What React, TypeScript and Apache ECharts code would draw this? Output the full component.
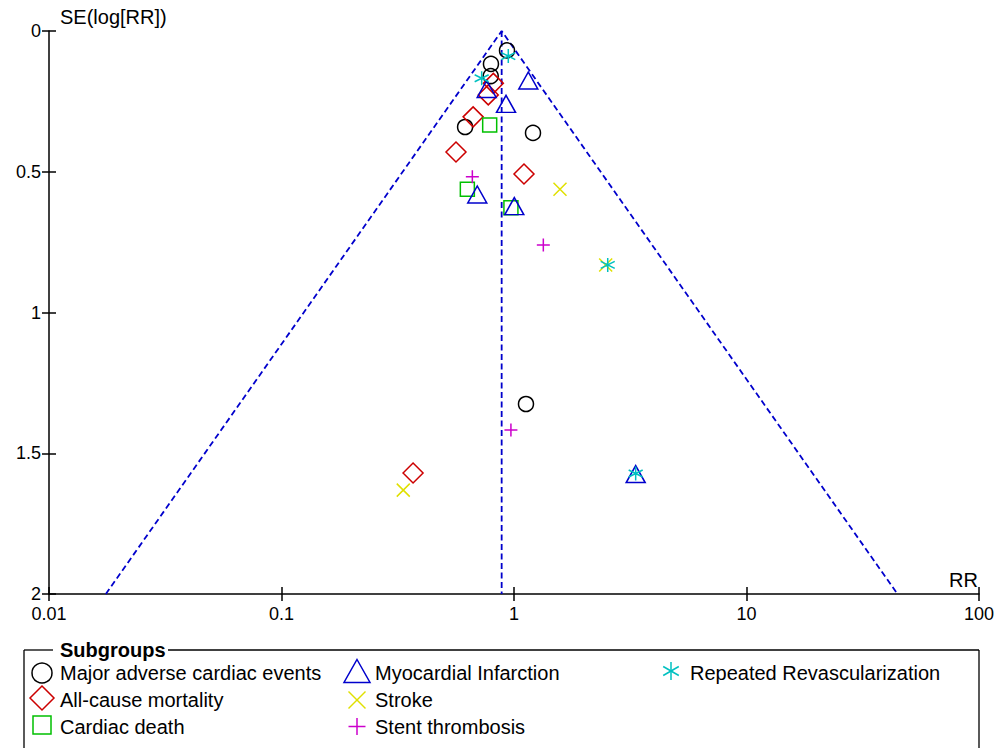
import React, { useEffect, useRef } from "react";
import * as echarts from "echarts";

// ---- data: [RR, SE(log[RR])] ----
const summaryRR = 0.885;
const seMax = 2;
const xTicks = [0.01, 0.1, 1, 10, 100];
const yTicks = [0, 0.5, 1, 1.5, 2];

const maceData = [
  [0.933, 0.069],
  [0.796, 0.117],
  [0.794, 0.16],
  [0.616, 0.341],
  [1.207, 0.362],
  [1.126, 1.325],
];
const mortalityData = [
  [0.815, 0.186],
  [0.775, 0.227],
  [0.667, 0.305],
  [0.563, 0.43],
  [1.104, 0.508],
  [0.368, 1.57],
];
const cardiacDeathData = [
  [0.786, 0.334],
  [0.63, 0.562],
  [0.97, 0.628],
];
const miData = [
  [1.152, 0.176],
  [0.763, 0.206],
  [0.924, 0.259],
  [0.695, 0.581],
  [1.003, 0.622],
  [3.337, 1.574],
];
const strokeData = [
  [1.577, 0.562],
  [2.479, 0.831],
  [0.334, 1.631],
];
const stentData = [
  [0.662, 0.518],
  [1.337, 0.76],
  [0.97, 1.417],
];
const revascData = [
  [0.945, 0.089],
  [0.726, 0.168],
  [2.53, 0.831],
  [3.337, 1.572],
];

const seriesNames = [
  "Major adverse cardiac events",
  "All-cause mortality",
  "Cardiac death",
  "Myocardial Infarction",
  "Stroke",
  "Stent thrombosis",
  "Repeated Revascularization",
];

const COLORS = {
  black: "#000000",
  red: "#cc0000",
  green: "#00c000",
  blue: "#0000cc",
  yellow: "#e0e000",
  magenta: "#cc00cc",
  cyan: "#00c0c0",
};

const FONT = "'Liberation Sans', Arial, Helvetica, sans-serif";
const TEXT_SIZE = 20;

const X_PATH = "path://M0,0L10,10M10,0L0,10";
const PLUS_PATH = "path://M5,0L5,10M0,5L10,5";
const STAR_PATH = "path://M5,0L5,10M0.67,2.5L9.33,7.5M0.67,7.5L9.33,2.5";

function scatter(name: string, data: number[][], symbol: string, size: any, color: string) {
  return {
    name,
    type: "scatter",
    data,
    symbol,
    symbolSize: size,
    itemStyle: { color: "rgba(0,0,0,0)", borderColor: color, borderWidth: 1.5, opacity: 1 },
    emphasis: { disabled: true },
    z: 5,
  };
}

function legendGraphics() {
  const els: any[] = [];
  const lw = 1.5;
  const frame = { stroke: "#000", lineWidth: 1.3 };
  els.push({ type: "line", shape: { x1: 24, y1: 650, x2: 53, y2: 650 }, style: frame });
  els.push({ type: "line", shape: { x1: 168, y1: 650, x2: 979, y2: 650 }, style: frame });
  els.push({ type: "line", shape: { x1: 24, y1: 650, x2: 24, y2: 760 }, style: frame });
  els.push({ type: "line", shape: { x1: 979, y1: 650, x2: 979, y2: 760 }, style: frame });
  els.push({
    type: "text",
    x: 60,
    y: 650,
    style: { text: "Subgroups", font: `bold ${TEXT_SIZE}px ${FONT}`, fill: "#000", verticalAlign: "middle" },
  });
  const txt = (x: number, y: number, t: string) => ({
    type: "text",
    x,
    y,
    style: { text: t, font: `${TEXT_SIZE}px ${FONT}`, fill: "#000", verticalAlign: "middle" },
  });
  // col 1
  els.push({ type: "circle", shape: { cx: 42, cy: 673, r: 10 }, style: { fill: "none", stroke: COLORS.black, lineWidth: lw } });
  els.push(txt(60, 673, seriesNames[0]));
  els.push({
    type: "polygon",
    shape: { points: [[42, 686], [54, 698], [42, 710], [30, 698]] },
    style: { fill: "none", stroke: COLORS.red, lineWidth: lw },
  });
  els.push(txt(60, 700, seriesNames[1]));
  els.push({ type: "rect", shape: { x: 33, y: 716, width: 18, height: 18 }, style: { fill: "none", stroke: COLORS.green, lineWidth: lw } });
  els.push(txt(60, 727, seriesNames[2]));
  // col 2
  els.push({
    type: "polygon",
    shape: { points: [[357, 659.5], [370, 682.5], [344, 682.5]] },
    style: { fill: "none", stroke: COLORS.blue, lineWidth: lw },
  });
  els.push(txt(375, 673, seriesNames[3]));
  const ys = { stroke: COLORS.yellow, lineWidth: lw };
  els.push({ type: "line", shape: { x1: 348.5, y1: 691.5, x2: 365.5, y2: 708.5 }, style: ys });
  els.push({ type: "line", shape: { x1: 365.5, y1: 691.5, x2: 348.5, y2: 708.5 }, style: ys });
  els.push(txt(375, 700, seriesNames[4]));
  const ms = { stroke: COLORS.magenta, lineWidth: lw };
  els.push({ type: "line", shape: { x1: 357, y1: 718, x2: 357, y2: 735 }, style: ms });
  els.push({ type: "line", shape: { x1: 348.5, y1: 726.5, x2: 365.5, y2: 726.5 }, style: ms });
  els.push(txt(375, 727, seriesNames[5]));
  // col 3
  const cs = { stroke: COLORS.cyan, lineWidth: lw };
  const cx = 671, cy = 671, r = 9;
  els.push({ type: "line", shape: { x1: cx, y1: cy - r, x2: cx, y2: cy + r }, style: cs });
  els.push({ type: "line", shape: { x1: cx - r * 0.866, y1: cy - r / 2, x2: cx + r * 0.866, y2: cy + r / 2 }, style: cs });
  els.push({ type: "line", shape: { x1: cx - r * 0.866, y1: cy + r / 2, x2: cx + r * 0.866, y2: cy - r / 2 }, style: cs });
  els.push(txt(690, 673, seriesNames[6]));
  return els;
}

export default function App() {
  const ref = useRef<HTMLDivElement>(null);
  useEffect(() => {
    if (!ref.current) return;
    const chart = echarts.init(ref.current, null, { renderer: "svg" });
    const lowRR = summaryRR * Math.exp(-1.96 * seMax);
    const highRR = summaryRR * Math.exp(1.96 * seMax);
    const dash = { color: COLORS.blue, width: 1.8, type: [6, 3.5] as any };
    const axisLineStyle = { color: "#000", width: 1.5 };
    const fmtX = (v: number) => {
      const n = parseFloat(Number(v).toPrecision(3));
      return xTicks.includes(n) ? String(n) : "";
    };
    const fmtY = (v: number) => {
      const n = parseFloat(Number(v).toPrecision(3));
      return yTicks.includes(n) ? String(n) : "";
    };
    const option: any = {
      animation: false,
      backgroundColor: "#fff",
      textStyle: { fontFamily: FONT },
      grid: { left: 49, right: 22, top: 31, bottom: 154, containLabel: false },
      xAxis: [
        {
          type: "log",
          logBase: 10,
          min: 0.01,
          max: 100,
          position: "bottom",
          axisLine: { show: true, onZero: false, lineStyle: axisLineStyle },
          axisTick: { show: true, length: 7, lineStyle: axisLineStyle },
          axisLabel: { fontSize: 18, color: "#000", margin: 11, fontFamily: FONT, formatter: fmtX },
          splitLine: { show: false },
          minorTick: { show: false },
        },
        {
          type: "log",
          logBase: 10,
          min: 0.01,
          max: 100,
          position: "bottom",
          axisLine: { show: false, onZero: false },
          axisTick: { show: true, inside: true, length: 7, lineStyle: axisLineStyle },
          axisLabel: { show: false },
          splitLine: { show: false },
        },
      ],
      yAxis: [
        {
          type: "value",
          inverse: true,
          min: 0,
          max: 2,
          interval: 0.5,
          position: "left",
          axisLine: { show: true, onZero: false, lineStyle: axisLineStyle },
          axisTick: { show: true, length: 7, lineStyle: axisLineStyle },
          axisLabel: { fontSize: 18, color: "#000", margin: 8, fontFamily: FONT, formatter: fmtY },
          splitLine: { show: false },
        },
        {
          type: "value",
          inverse: true,
          min: 0,
          max: 2,
          interval: 0.5,
          position: "left",
          axisLine: { show: false, onZero: false },
          axisTick: { show: true, inside: true, length: 7, lineStyle: axisLineStyle },
          axisLabel: { show: false },
          splitLine: { show: false },
        },
      ],
      series: [
        {
          name: "funnel",
          type: "line",
          data: [
            [lowRR, seMax],
            [summaryRR, 0],
            [highRR, seMax],
          ],
          symbol: "none",
          lineStyle: dash,
          silent: true,
          z: 2,
        },
        {
          name: "summary",
          type: "line",
          data: [
            [summaryRR, 0],
            [summaryRR, seMax],
          ],
          symbol: "none",
          lineStyle: dash,
          silent: true,
          z: 2,
        },
        scatter(seriesNames[0], maceData, "circle", 15, COLORS.black),
        scatter(seriesNames[1], mortalityData, "diamond", 20, COLORS.red),
        scatter(seriesNames[2], cardiacDeathData, "rect", 14, COLORS.green),
        scatter(seriesNames[3], miData, "triangle", [19, 17], COLORS.blue),
        scatter(seriesNames[4], strokeData, X_PATH, 13, COLORS.yellow),
        scatter(seriesNames[5], stentData, PLUS_PATH, 13, COLORS.magenta),
        scatter(seriesNames[6], revascData, STAR_PATH, 14, COLORS.cyan),
      ],
      graphic: [
        {
          type: "text",
          x: 60,
          y: 17,
          style: { text: "SE(log[RR])", font: `${TEXT_SIZE}px ${FONT}`, fill: "#000", verticalAlign: "middle" },
        },
        {
          type: "text",
          x: 978,
          y: 580,
          style: { text: "RR", font: `${TEXT_SIZE}px ${FONT}`, fill: "#000", align: "right", verticalAlign: "middle" },
        },
        ...legendGraphics(),
      ],
    };
    chart.setOption(option);
    return () => chart.dispose();
  }, []);
  return (
    <div
      ref={ref}
      style={{ position: "absolute", left: 0, top: 0, width: 1001, height: 748, background: "#fff" }}
    />
  );
}
